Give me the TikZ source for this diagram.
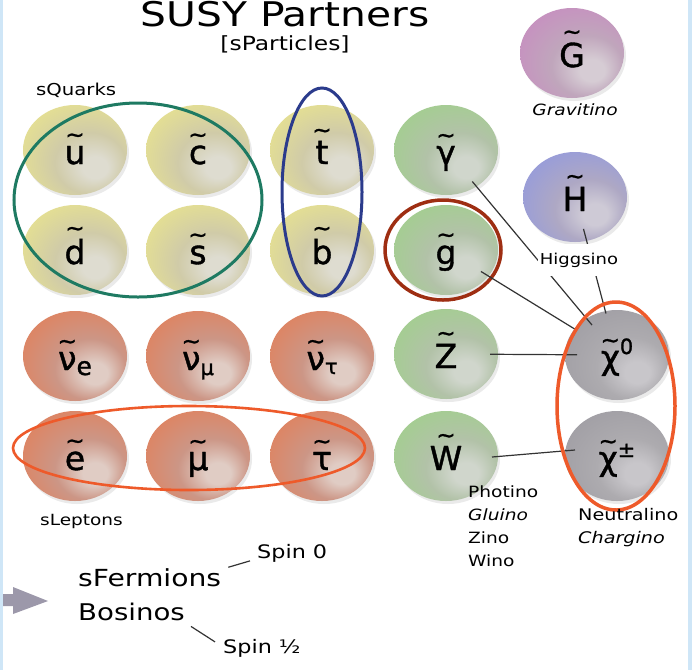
\documentclass[tikz,border=0pt]{standalone}
\usepackage{fontspec}
\setmainfont{DejaVu Sans}[FakeStretch=1.2]
\newfontfamily\symf{DejaVu Sans}[FakeBold=1.2]
\usetikzlibrary{shapes.geometric,shadows,calc}
% colours
\definecolor{yL}{HTML}{DEDCD0}\definecolor{yM}{HTML}{D0CBA8}\definecolor{yE}{HTML}{E7E290}
\definecolor{oL}{HTML}{E0CCC4}\definecolor{oM}{HTML}{CC9686}\definecolor{oE}{HTML}{E0825E}
\definecolor{gL}{HTML}{D0D6CC}\definecolor{gM}{HTML}{B2C2A8}\definecolor{gE}{HTML}{A2CF8E}
\definecolor{pL}{HTML}{D6CCD4}\definecolor{pM}{HTML}{C0A6BC}\definecolor{pE}{HTML}{C78EC0}
\definecolor{bL}{HTML}{CECAD6}\definecolor{bM}{HTML}{AEA8C4}\definecolor{bE}{HTML}{959BDC}
\definecolor{kL}{HTML}{C8C6CA}\definecolor{kM}{HTML}{ADABAF}\definecolor{kE}{HTML}{A09EA4}
\definecolor{tealc}{HTML}{1E7A62}\definecolor{navyc}{HTML}{2B3B8C}
\definecolor{rustc}{HTML}{9E2E12}\definecolor{orngc}{HTML}{EE5A2A}
\definecolor{arrowc}{HTML}{9C98AA}\definecolor{edgec}{HTML}{CFE6F7}
\newcommand\mkshade[4]{\pgfdeclareradialshading{#1}{\pgfpoint{11bp}{-11bp}}{color(0bp)=(#2); color(6bp)=(#2); color(17bp)=(#3); color(34bp)=(#4); color(50bp)=(#4)}}
\mkshade{ysh}{yL}{yM}{yE}
\mkshade{osh}{oL}{oM}{oE}
\mkshade{gsh}{gL}{gM}{gE}
\mkshade{psh}{pL}{pM}{pE}
\mkshade{bsh}{bL}{bM}{bE}
\mkshade{ksh}{kL}{kM}{kE}
\newcommand\tl[1]{\setbox0=\hbox{#1}\leavevmode\hbox to\wd0{\hss\raisebox{\dimexpr\ht0+3pt\relax}{\fontsize{23}{23}\selectfont\symf\char"7E}\hss}\kern-\wd0\box0}
\newcommand\fs[1]{\fontsize{#1}{#1}\selectfont}
\tikzset{
  ball/.style={ellipse, minimum width=104pt, minimum height=90pt, inner sep=0pt, shade, shading=#1,
    drop shadow={opacity=0.18, shadow xshift=2pt, shadow yshift=-3pt, fill=black!45}},
  sym/.style={anchor=base, font=\symf\fs{33}, inner sep=0pt, yshift=-14pt},
  lbl/.style={inner sep=0pt, anchor=base west},
  conn/.style={draw=black!80, line width=1.2pt},
  ring/.style={line width=3pt},
}
\begin{document}
\begin{tikzpicture}[x=1pt,y=-1pt]
\useasboundingbox (0,0) rectangle (692,670);
\fill[white] (0,0) rectangle (692,670);
\fill[edgec] (0,0) rectangle (3,670);
\fill[edgec] (688,0) rectangle (692,670);

% title
\node[anchor=base, inner sep=0pt, font=\fs{34}] (title) at (285,26) {SUSY Partners};
\node[anchor=base, inner sep=0pt, font=\fs{19.5}] (sub) at (285,50) {[sParticles]};

% balls
\node[ball=ysh] (u) at (75,150) {};
\node[ball=ysh] (c) at (198,150) {};
\node[ball=ysh] (t) at (322,150) {};
\node[ball=gsh] (gam) at (446,150) {};
\node[ball=ysh] (d) at (75,250) {};
\node[ball=ysh] (s) at (198,250) {};
\node[ball=ysh] (b) at (322,250) {};
\node[ball=gsh] (g) at (446,250) {};
\node[ball=osh] (nue) at (75,356) {};
\node[ball=osh] (num) at (198,356) {};
\node[ball=osh] (nut) at (322,356) {};
\node[ball=gsh] (Z) at (446,354) {};
\node[ball=ksh] (chi0) at (617,355) {};
\node[ball=osh] (e) at (75,456) {};
\node[ball=osh] (mu) at (198,456) {};
\node[ball=osh] (tau) at (322,456) {};
\node[ball=gsh] (W) at (446,456) {};
\node[ball=ksh] (chip) at (617,456) {};
\node[ball=psh] (G) at (572,53) {};
\node[ball=bsh] (H) at (575,197) {};

% symbols
\node[sym] at (u.center) {\tl{u}};
\node[sym] at (c.center) {\tl{c}};
\node[sym] at (t.center) {\tl{t}};
\node[sym] at (gam.center) {\tl{γ}};
\node[sym] at (d.center) {\tl{d}};
\node[sym] at (s.center) {\tl{s}};
\node[sym] at (b.center) {\tl{b}};
\node[sym] at (g.center) {\tl{g}};
\node[sym] at (nue.center) {\tl{ν}\raisebox{-5pt}{\fs{25}e}};
\node[sym] at (num.center) {\tl{ν}\raisebox{-5pt}{\fs{21}μ}};
\node[sym] at (nut.center) {\tl{ν}\raisebox{-4pt}{\fs{21}τ}};
\node[sym] at (Z.center) {\tl{Z}};
\node[sym] at (chi0.center) {\tl{χ}\raisebox{15pt}{\fs{21}0}};
\node[sym] at (e.center) {\tl{e}};
\node[sym] at (mu.center) {\tl{μ}};
\node[sym] at (tau.center) {\tl{τ}};
\node[sym] at (W.center) {\tl{W}};
\node[sym] at (chip.center) {\tl{χ}\raisebox{13pt}{\fs{21}±}};
\node[sym] at (G.center) {\tl{G}};
\node[sym] at (H.center) {\tl{H}};

% rings
\draw[ring, tealc] (138,200) ellipse (124 and 97);
\draw[ring, navyc] (322,192) ellipse (40 and 104);
\draw[ring, rustc, line width=3.5pt] (443,250) ellipse (58 and 50);
\draw[ring, orngc, line width=2.6pt] (189,448) ellipse (176 and 42);

% connectors
\draw[conn, shorten <=41pt, shorten >=39pt] (gam.center) -- (chi0.center);
\draw[conn, shorten <=33pt, shorten >=43pt] (H.center) -- (chi0.center);
\draw[conn, shorten <=41pt, shorten >=49pt] (g.center) -- (chi0.center);
\draw[conn, shorten <=44pt, shorten >=40pt] (Z.center) -- (chi0.center);
\draw[conn] ($(W.center)+(46,1)$) -- ($(chip.center)+(-42,-6)$);

\draw[ring, orngc, line width=3.5pt] (616,406) ellipse (59 and 104);

% labels
\node[lbl, font=\fs{16.4}] (sq) at (36,95) {sQuarks};
\node[lbl, font=\fs{15.4}] (sl) at (40,525) {sLeptons};
\node[anchor=base, inner sep=0pt, font=\itshape\fs{15.5}] (grav) at (575,115) {Gravitino};
\node[anchor=base, fill=white, inner xsep=2pt, inner ysep=8.5pt, font=\fs{15}] (hig) at (579,264) {Higgsino};
\node[lbl, font=\fs{15.5}] (ph) at (468,497) {Photino};
\node[lbl, font=\itshape\fs{15.5}] (gl) at (468,520) {Gluino};
\node[lbl, font=\fs{15.5}] (zi) at (468,543) {Zino};
\node[lbl, font=\fs{15.5}] (wi) at (468,566) {Wino};
\node[lbl, font=\fs{16}] (ne) at (578,520) {Neutralino};
\node[lbl, font=\itshape\fs{16}] (ch) at (578,543) {Chargino};

\node[lbl, font=\fs{23.5}] (sf) at (78,586) {sFermions};
\node[lbl, font=\fs{23}] (bo) at (78,620) {Bosinos};
\node[lbl, font=\fs{18.6}] (sp0) at (257,558) {Spin 0};
\node[lbl, font=\fs{18.6}] (sph) at (223,653) {Spin ½};
\draw[conn] ($(sf.east)+(7,-10)$) -- ($(sp0.west)+(-7,8)$);
\draw[conn] ($(bo.east)+(6,15)$) -- ($(sph.west)+(-8,-6)$);

% arrow
\fill[arrowc] (3,594) -- (13,594) -- (13,587) -- (48,601) -- (13,614) -- (13,606) -- (3,606) -- cycle;
\end{tikzpicture}
\end{document}
